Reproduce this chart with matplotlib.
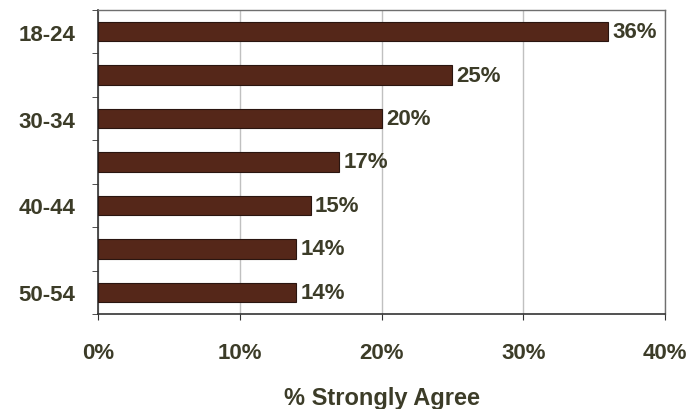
import matplotlib
matplotlib.use("Agg")
import matplotlib.pyplot as plt
import numpy as np

categories = ["18-24", "25-29", "30-34", "35-39", "40-44", "45-49", "50-54"]
values = [36, 25, 20, 17, 15, 14, 14]
shown_labels = ["18-24", "", "30-34", "", "40-44", "", "50-54"]
xticks = [0, 10, 20, 30, 40]

text_color = "#3c3c28"
bar_color = "#552719"

plt.rcParams['font.family'] = ['Liberation Sans', 'DejaVu Sans']

fig = plt.figure(figsize=(6.88, 4.10), dpi=100)
ax = fig.add_axes([98/688, 1-315/410, (665-98)/688, (315-11)/410])

y = np.arange(len(categories))
ax.barh(y, values, height=0.45, color=bar_color, edgecolor="#2a1510", linewidth=0.8, zorder=3)
for yi, v in zip(y, values):
    ax.text(v + 0.3, yi, f"{v}%", va="center", ha="left", fontsize=16,
            fontweight="bold", color=text_color, zorder=4)

ax.set_ylim(len(categories) - 0.5, -0.5)
ax.set_xlim(0, 40)
ax.set_xticks(xticks)
ax.set_xticklabels([f"{t}%" for t in xticks], fontsize=16, fontweight="bold", color=text_color)
ax.tick_params(axis="x", direction="out", length=4, pad=16, color="#333333")

ax.set_yticks(y)
ax.set_yticklabels(shown_labels, fontsize=16, fontweight="bold", color=text_color)
ax.tick_params(axis="y", which="major", length=0, pad=16.5)
ax.set_yticks(np.arange(-0.5, len(categories) + 0.5, 1), minor=True)
ax.tick_params(axis="y", which="minor", direction="out", length=4, color="#333333")

ax.grid(axis="x", color="#c0c0c0", linewidth=1, zorder=0)
for s in ["left", "bottom"]:
    ax.spines[s].set_color("#333333")
    ax.spines[s].set_linewidth(1.2)
for s in ["top", "right"]:
    ax.spines[s].set_color("#6f6f6f")
    ax.spines[s].set_linewidth(1.0)

ax.set_xlabel("% Strongly Agree", fontsize=17, fontweight="bold", color=text_color, labelpad=17)

fig.savefig("out.png", dpi=100)
